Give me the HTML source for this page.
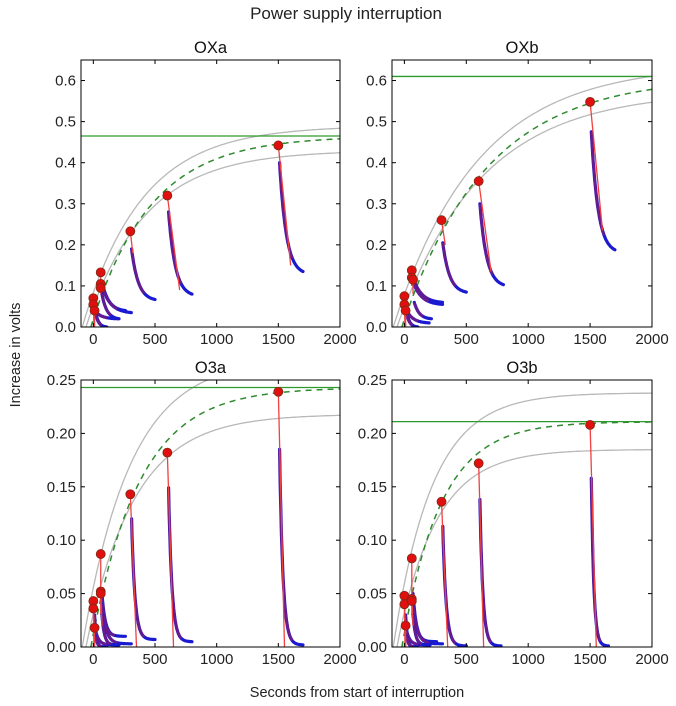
<!DOCTYPE html>
<html><head><meta charset="utf-8"><style>
html,body{margin:0;padding:0;background:#fff;}
svg{display:block;font-family:"Liberation Sans","DejaVu Sans",sans-serif;}
</style></head><body>
<svg id="chart" width="676" height="706" viewBox="0 0 676 706">
<text x="346" y="19" font-size="17" text-anchor="middle" fill="#222">Power supply interruption</text>
<text x="357" y="697" font-size="14.5" text-anchor="middle" fill="#222">Seconds from start of interruption</text>
<text transform="translate(20,355) rotate(-90)" font-size="14.5" text-anchor="middle" fill="#222">Increase in volts</text>
</svg>
<script>
const panelNames=["OXa","OXb","O3a","O3b"];
const xTicks=[0,500,1000,1500,2000];
const yTicksTop=[0,0.1,0.2,0.3,0.4,0.5,0.6];
const yTicksBot=[0,0.05,0.10,0.15,0.20,0.25];
const asymptote=[0.465,0.61,0.243,0.211];
const tauFit=[480,680,390,313];
const upperA=[0.49,0.64,0.27,0.238];
const lowerA=[0.43,0.575,0.218,0.185];
const eventT=[[0,0,10,60,60,60,300,600,1500],[0,0,10,60,60,70,300,600,1500],[0,0,10,60,60,60,300,600,1500],[0,0,10,60,60,60,300,600,1500]];
const peakV=[[0.07,0.055,0.04,0.133,0.105,0.095,0.233,0.32,0.442],[0.075,0.055,0.04,0.138,0.12,0.115,0.26,0.355,0.548],[0.043,0.036,0.018,0.087,0.052,0.05,0.143,0.182,0.239],[0.048,0.04,0.02,0.083,0.045,0.043,0.136,0.172,0.208]];
const decayStart=[[0.05,0.04,0.03,0.11,0.1,0.08,0.19,0.28,0.40],[0.05,0.045,0.03,0.12,0.11,0.06,0.205,0.30,0.475],[0.03,0.02,0.01,0.05,0.04,0.03,0.12,0.149,0.185],[0.03,0.02,0.01,0.05,0.04,0.03,0.113,0.138,0.158]];
const decayEnd=[[0,0.02,0,0.04,0.035,0.02,0.067,0.08,0.135],[0,0.01,0,0.06,0.055,0.02,0.085,0.103,0.188],[0,0.002,0,0.01,0.003,0.002,0.007,0.005,0.002],[0,0.002,0,0.005,0.003,0.002,0.001,0.001,0.001]];
const decayDur=[[100,200,100,200,250,150,200,200,200],[100,200,100,250,250,150,200,200,200],[100,200,100,200,250,150,200,200,200],[100,200,100,200,250,150,200,180,150]];
const redEndT=[[5,5,10,60,60,60,320,700,1600],[5,5,10,60,60,70,330,700,1600],[10,5,10,60,70,70,350,650,1550],[10,5,10,60,70,70,350,640,1550]];
const redEndV=[[0,0.02,0,0.09,0.09,0.08,0.18,0.09,0.15],[0,0.02,0,0.1,0.1,0.08,0.2,0.135,0.235],[0,0,0,0.03,0.02,0.02,0,0,0],[0,0,0,0.03,0.02,0.02,0,0,0]];
const boxes=[[81,60,340,327],[392,60,652,327],[81,380,340,647],[392,380,652,647]];
const NS="http://www.w3.org/2000/svg";
const svg=document.getElementById('chart');
function mk(tag,attrs,parent){const e=document.createElementNS(NS,tag);for(const k in attrs)e.setAttribute(k,attrs[k]);(parent||svg).appendChild(e);return e;}
for(let p=0;p<4;p++){
  const [L,T,R,B]=boxes[p];
  const ymax=p<2?0.65:0.25;
  const yt=p<2?yTicksTop:yTicksBot;
  const xs=t=>L+(t+100)/2100*(R-L);
  const ys=v=>B-v/ymax*(B-T);
  const g=mk('g',{});
  
  
  const cid='clip'+p;
  const cp=mk('clipPath',{id:cid},g);mk('rect',{x:L,y:T,width:R-L,height:B-T},cp);
  const pg=mk('g',{'clip-path':'url(#'+cid+')'},g);
  function curve(A,tau,t0,attrs,name){
    let d='';for(let t=t0;t<=2000;t+=10){const v=A*(1-Math.exp(-(t-t0)/tau));d+=(d?'L':'M')+xs(t).toFixed(1)+','+ys(v).toFixed(1);}
    const e=mk('path',Object.assign({d:d,fill:'none'},attrs),pg);
    
    
  }
  curve(upperA[p],tauFit[p],-90,{stroke:'#b8b8b8','stroke-width':1.3},'upper-band');
  curve(lowerA[p],tauFit[p],-60,{stroke:'#b8b8b8','stroke-width':1.3},'lower-band');
  curve(asymptote[p],tauFit[p],-20,{stroke:'#2e8b2e','stroke-width':1.5,'stroke-dasharray':'6,5'},'fit-curve');
  const h=mk('line',{x1:L,x2:R,y1:ys(asymptote[p]),y2:ys(asymptote[p]),stroke:'#2e9a2e','stroke-width':1.3},pg);
  
  
  const rate=p<2?3.5:7;
  for(let i=0;i<eventT[p].length;i++){
    const t=eventT[p][i],D=decayDur[p][i],s0=decayStart[p][i],s1=decayEnd[p][i];
    const pts=[];
    for(let s=0;s<=D;s+=4){const f=(Math.exp(-rate*s/D)-Math.exp(-rate))/(1-Math.exp(-rate));pts.push([xs(t+10+s*(D-10)/D),ys(s1+(s0-s1)*f)]);}
    const dAll='M'+pts.map(q=>q[0].toFixed(1)+','+q[1].toFixed(1)).join('L');
    const k=Math.floor(pts.length*0.55);
    const dHead='M'+pts.slice(0,k).map(q=>q[0].toFixed(1)+','+q[1].toFixed(1)).join('L');
    const e1=mk('path',{d:dAll,fill:'none',stroke:'#1a1ad0','stroke-width':3.2,'stroke-linecap':'round'},pg);
    
    
    const e2=mk('path',{d:dHead,fill:'none',stroke:'#6a1a8a','stroke-width':2.6},pg);
    
    
    const rl=mk('line',{x1:xs(t),y1:ys(peakV[p][i]),x2:xs(redEndT[p][i]),y2:ys(redEndV[p][i]),stroke:'#f04040','stroke-width':1.3},pg);
    
    
  }
  for(let i=0;i<eventT[p].length;i++){
    const c=mk('circle',{cx:xs(eventT[p][i]),cy:ys(peakV[p][i]),r:4.5,fill:'#e01010',stroke:'#7a2a10','stroke-width':0.8},g);
    
    
  }
  const fr=mk('rect',{x:L,y:T,width:R-L,height:B-T,fill:'none',stroke:'#000','stroke-width':1},g);
  
  
  for(const xt of xTicks){
    const x=xs(xt);
    mk('line',{x1:x,x2:x,y1:B,y2:B-4,stroke:'#000'},g);mk('line',{x1:x,x2:x,y1:T,y2:T+4,stroke:'#000'},g);
    const tx=mk('text',{x:x,y:B+17,'font-size':15,'text-anchor':'middle',fill:'#222'},g);tx.textContent=xt;
    
    
  }
  for(const v of yt){
    const y=ys(v);
    mk('line',{x1:L,x2:L+4,y1:y,y2:y,stroke:'#000'},g);mk('line',{x1:R,x2:R-4,y1:y,y2:y,stroke:'#000'},g);
    const tx=mk('text',{x:L-5,y:y+5,'font-size':15,'text-anchor':'end',fill:'#222'},g);tx.textContent=v.toFixed(p<2?1:2);
    
    
  }
  const tt=mk('text',{x:(L+R)/2,y:T-7,'font-size':16.5,'text-anchor':'middle',fill:'#111'},g);tt.textContent=panelNames[p];
  
  
}
</script>
</body></html>
